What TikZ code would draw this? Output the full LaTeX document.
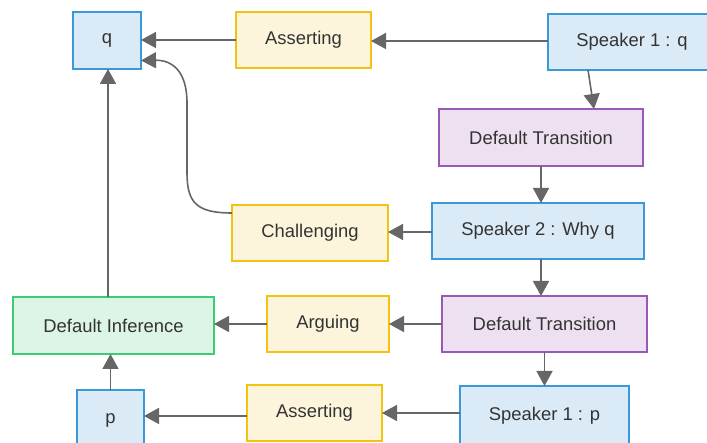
\documentclass[tikz,border=0pt]{standalone}
\usepackage{fontspec}
\setmainfont{Liberation Sans}
\usetikzlibrary{arrows.meta}

\definecolor{bluestroke}{HTML}{3A9AD9}
\definecolor{bluefill}{HTML}{DAEAF7}
\definecolor{yelstroke}{HTML}{F2C40F}
\definecolor{yelfill}{HTML}{FCF5DB}
\definecolor{grnstroke}{HTML}{3ACD74}
\definecolor{grnfill}{HTML}{DCF5E6}
\definecolor{purstroke}{HTML}{9B59B6}
\definecolor{purfill}{HTML}{EDE0F0}
\definecolor{edgegray}{HTML}{666666}

\tikzset{
  box/.style={draw, line width=1.5pt, inner sep=0pt, outer sep=0pt,
    text=black!80, font=\fontsize{18.4}{22}\selectfont},
  claim/.style={box, draw=bluestroke, fill=bluefill},
  move/.style={box, draw=yelstroke, fill=yelfill},
  infer/.style={box, draw=grnstroke, fill=grnfill},
  trans/.style={box, draw=purstroke, fill=purfill},
  arr/.style={draw=edgegray, line width=1.6pt,
    -{Triangle[length=15pt,width=16pt]}},
}

\begin{document}
\begin{tikzpicture}[x=1pt,y=1pt]
  \useasboundingbox (0,0) rectangle (707,443);

  % nodes (centre, size)
  \node[claim, minimum width=68pt,  minimum height=57pt] (q)    at (107,402.5) {q};
  \node[move,  minimum width=135pt, minimum height=56pt] (as1)  at (303.5,403) {Asserting};
  \node[claim, minimum width=168pt, minimum height=56pt] (s1q)  at (632,401) {Speaker 1 : q};
  \node[trans, minimum width=204pt, minimum height=57pt] (dt1)  at (541,305.5) {Default Transition};
  \node[claim, minimum width=212pt, minimum height=56pt] (s2)   at (538,212) {Speaker 2 : Why q};
  \node[move,  minimum width=156pt, minimum height=56pt] (ch)   at (310,210) {Challenging};
  \node[trans, minimum width=205pt, minimum height=56pt] (dt2)  at (544.5,119) {Default Transition};
  \node[move,  minimum width=122pt, minimum height=56pt] (ar)   at (328,119) {Arguing};
  \node[infer, minimum width=201pt, minimum height=57pt] (di)   at (113.5,117.5) {Default Inference};
  \node[claim, minimum width=169pt, minimum height=60pt] (s1p)  at (544.5,27) {Speaker 1 : p};
  \node[move,  minimum width=135pt, minimum height=56pt] (as2)  at (314.5,30) {Asserting};
  \node[claim, minimum width=67pt,  minimum height=60pt] (p)    at (110.5,23) {p};

  % connectors
  \draw[arr] ([yshift=1]s1q.west) -- ([yshift=1]s1q.west -| as1.east);
  \draw[arr] (as1.west) -- (as1.west -| q.east);
  \draw[arr] ([xshift=-44]s1q.south) -- ([xshift=53]dt1.north);
  \draw[arr] (dt1.south) -- (dt1.south |- s2.north);
  \draw[arr] ([yshift=-1]s2.west) -- ([yshift=-1]s2.west -| ch.east);
  \draw[arr] ([xshift=3]s2.south) -- ([xshift=3]s2.south |- dt2.north);
  \draw[arr] (dt2.west) -- (dt2.west -| ar.east);
  \draw[arr] (ar.west) -- (ar.west -| di.east);
  \draw[arr] (dt2.south) -- (dt2.south |- s1p.north);
  \draw[arr] ([yshift=3]s1p.west) -- ([yshift=3]s1p.west -| as2.east);
  \draw[arr] ([yshift=-3]as2.west) -- ([yshift=-3]as2.west -| p.east);
  \draw[arr] (p.north) -- (p.north |- di.south);
  \draw[arr] ([xshift=-5.5]di.north) -- ([xshift=-5.5]di.north |- q.south);

  % curved link from Challenging back to q
  \coordinate (chout) at ([yshift=20]ch.west);
  \coordinate (qin) at ([yshift=-20]q.east);
  \draw[arr] (chout) .. controls (197,230) and (187,240) .. (187,270)
    -- (187,340) .. controls (187,372) and (172,383) .. (qin);
\end{tikzpicture}
\end{document}
